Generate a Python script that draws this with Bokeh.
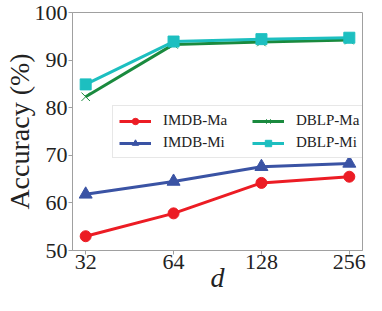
from bokeh.plotting import figure
from bokeh.models import Range1d, FixedTicker, Legend, LegendItem
from bokeh.embed import file_html
from bokeh.resources import INLINE

d_values = [32, 64, 128, 256]
tick_labels = ["32", "64", "128", "256"]
imdb_ma = [53.0, 57.8, 64.2, 65.5]
imdb_mi = [61.8, 64.5, 67.6, 68.3]
dblp_ma = [82.3, 93.3, 93.8, 94.2]
dblp_mi = [84.9, 93.9, 94.4, 94.7]
y_ticks = [50, 60, 70, 80, 90, 100]

FONT = "'Liberation Serif', serif"
RED = "#ec1c24"
BLUE = "#3a53a4"
GREEN = "#1a8a3e"
CYAN = "#1dbfc0"

p = figure(
    width=366, height=295,
    x_axis_type="log",
    x_range=Range1d(32 / 2 ** 0.15, 256 * 2 ** 0.15),
    y_range=Range1d(50, 100),
    output_backend="svg", toolbar_location=None,
    min_border_left=68, min_border_right=4, min_border_top=12, min_border_bottom=0,
)
p.grid.visible = False
p.outline_line_color = "#a0a0a0"
p.outline_line_width = 1
p.background_fill_color = "white"
p.border_fill_color = "white"

for ax in (p.xaxis[0], p.yaxis[0]):
    ax.axis_line_color = "#a0a0a0"
    ax.major_tick_line_color = "#a0a0a0"
    ax.major_tick_out = 4
    ax.major_tick_in = 0
    ax.minor_tick_line_color = None
    ax.major_label_text_font = FONT
    ax.major_label_text_font_size = "22px"
    ax.major_label_text_color = "#222222"
    ax.axis_label_text_font = FONT
    ax.axis_label_text_color = "#222222"

p.xaxis.ticker = FixedTicker(ticks=d_values)
p.xaxis.major_label_overrides = {v: s for v, s in zip(d_values, tick_labels)}
p.xaxis.axis_label = "d"
p.xaxis.axis_label_text_font_style = "italic"
p.xaxis.axis_label_text_font_size = "28px"
p.xaxis.axis_label_standoff = -10
p.xaxis.major_label_standoff = 0

p.yaxis.ticker = FixedTicker(ticks=y_ticks)
p.yaxis.axis_label = "Accuracy (%)"
p.yaxis.axis_label_text_font_style = "normal"
p.yaxis.axis_label_text_font_size = "28px"
p.yaxis.axis_label_standoff = -3
p.yaxis.major_label_standoff = 1

lw = 3
r1l = p.line(d_values, imdb_ma, color=RED, line_width=lw)
r1m = p.scatter(d_values, imdb_ma, marker="circle", size=11, color=RED)
r2l = p.line(d_values, imdb_mi, color=BLUE, line_width=lw)
r2m = p.scatter(d_values, imdb_mi, marker="triangle", size=13, color=BLUE)
r3l = p.line(d_values, dblp_ma, color=GREEN, line_width=lw)
r3m = p.scatter(d_values, dblp_ma, marker="x", size=12, line_color=GREEN, line_width=1)
r4l = p.line(d_values, dblp_mi, color=CYAN, line_width=lw)
r4m = p.scatter(d_values, dblp_mi, marker="square", size=11, color=CYAN)

legend = Legend(
    items=[
        LegendItem(label="IMDB-Ma", renderers=[r1l, r1m]),
        LegendItem(label="IMDB-Mi", renderers=[r2l, r2m]),
        LegendItem(label="DBLP-Ma", renderers=[r3l, r3m]),
        LegendItem(label="DBLP-Mi", renderers=[r4l, r4m]),
    ],
    ncols=2,
    location=(40, 92),
    label_text_font=FONT,
    label_text_font_size="15px",
    label_text_color="#222222",
    glyph_width=32, glyph_height=16, label_height=16,
    label_standoff=12, label_width=84,
    spacing=5, padding=6, margin=0,
    border_line_color="#d0d0d0", border_line_width=1,
    background_fill_alpha=1.0,
)
p.add_layout(legend, "center")

open("out.html", "w").write(file_html(p, INLINE))
